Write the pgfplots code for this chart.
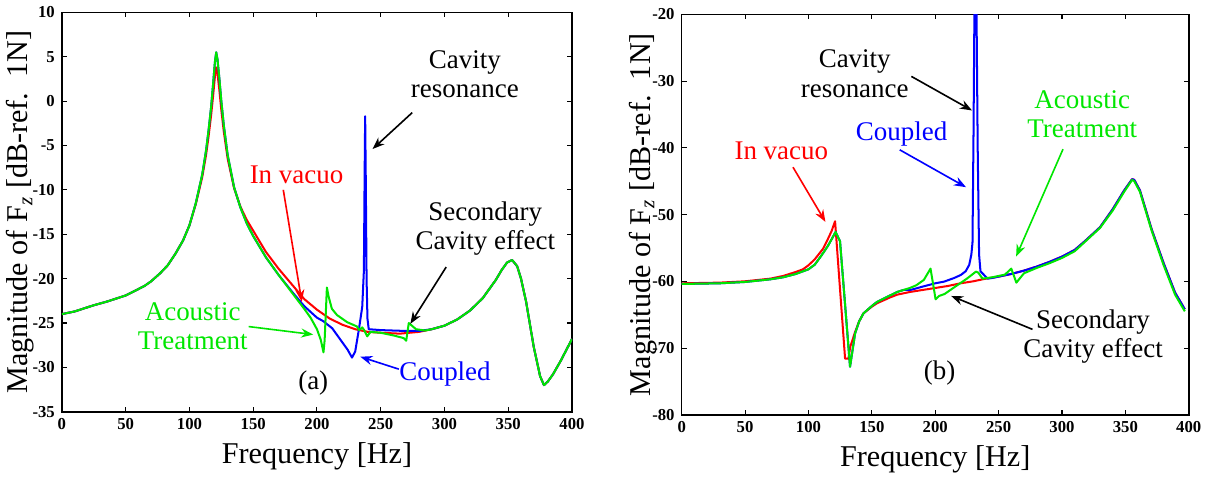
\documentclass[border=0pt]{standalone}
\usepackage{fontspec}
\setmainfont{Liberation Serif}
\usepackage{pgfplots}
\pgfplotsset{compat=1.18}
\usetikzlibrary{arrows.meta}

\definecolor{cred}{RGB}{255,0,0}
\definecolor{cblue}{RGB}{0,0,255}
\definecolor{cgreen}{RGB}{0,230,0}

\newcommand{\ann}{\fontsize{13.4}{14.5}\selectfont}
\newcommand{\lab}{\fontsize{15}{17}\selectfont}

\tikzset{arr/.style={line width=0.8pt, -{Stealth[length=6pt,width=4.5pt]}}}

\pgfplotsset{
  fr/.style={
    scale only axis,
    xmin=0, xmax=400,
    xtick={0,50,...,400},
    tick align=inside,
    major tick length=2.5pt,
    axis line style={line width=0.8pt},
    every tick/.style={black, line width=0.5pt},
    tick label style={font=\fontsize{8.3}{9}\selectfont\bfseries},
    /pgf/number format/assume math mode=true,
    xlabel={Frequency [Hz]},
    ylabel={Magnitude of F\textsubscript{\itshape z} [dB-ref.\ \ 1N]},
    every axis x label/.style={at={(axis description cs:0.5,-0.111)},anchor=center,font=\lab},
    every axis plot/.append style={line width=1pt, line join=round},
  },
}

\begin{document}
\begin{tikzpicture}
% ---------- (a) ----------
\begin{axis}[fr,
  width=253.5pt, height=198.5pt,
  ymin=-35, ymax=10, ytick={-35,-30,...,10},
  every axis y label/.style={at={(axis description cs:-0.081,0.5)},rotate=90,anchor=center,font=\lab},
]
% In vacuo
\addplot[cred] coordinates {
(0,-24.0) (10,-23.7) (25,-23.0) (35,-22.6) (50,-21.9) (57,-21.4) (65,-20.8)
(70,-20.3) (77,-19.4) (83,-18.5) (89,-17.2) (95,-15.7) (100,-14.0)
(105,-11.6) (110,-8.6) (113,-6.1) (115,-4.0) (117,-1.6) (118.5,0.5) (120,2.8)
(121,3.8) (122,3.1) (123.5,1.2) (125,-1.0) (127,-3.5) (130,-6.5) (135,-9.8)
(140,-11.9) (145,-13.4) (150,-14.6) (160,-17.0) (170,-18.9) (180,-20.6)
(190,-22.3) (200,-23.5) (210,-24.5) (220,-25.2) (230,-25.7) (240,-26.0)
(250,-26.1) (265,-26.2) (280,-26.0) (290,-25.7) (300,-25.3) (310,-24.6)
(320,-23.6) (330,-22.2) (340,-20.2) (345,-19.0) (349,-18.2) (353,-17.9)
(357,-18.6) (360,-20.0) (364,-22.6) (370,-27.7) (375,-31.0) (378,-32.0)
(381,-31.6) (385,-30.8) (391,-29.3) (400,-26.8)
};
% Coupled
\addplot[cblue] coordinates {
(0,-24.0) (10,-23.7) (25,-23.0) (35,-22.6) (50,-21.9) (57,-21.4) (65,-20.8)
(70,-20.3) (77,-19.4) (83,-18.5) (89,-17.2) (95,-15.7) (100,-14.0)
(105,-11.5) (110,-8.3) (113,-5.6) (115,-3.3) (117,-0.7) (118.5,1.8) (120,4.4)
(121,5.5) (122,4.7) (123.5,2.5) (125,0.0) (127,-2.8) (130,-6.1) (135,-9.7)
(140,-12.0) (145,-13.8) (150,-15.2) (160,-17.6) (170,-19.6) (180,-21.4)
(190,-23.1) (200,-24.4) (205,-24.8) (212,-25.6) (218,-26.8) (224,-28.0)
(227.5,-28.9) (230,-28.2) (232.8,-25.8) (235.5,-23.2) (236.8,-19.1)
(237.4,-8.0) (237.8,-1.7) (238.3,-9.0) (238.9,-20.0) (239.6,-24.5)
(240.6,-25.7) (250,-25.8) (260,-25.85) (270,-25.9) (280,-25.9) (290,-25.7)
(300,-25.3) (310,-24.6) (320,-23.6) (330,-22.2) (340,-20.2) (345,-19.0)
(349,-18.2) (353,-17.9) (357,-18.6) (360,-20.0) (364,-22.6) (370,-27.7)
(375,-31.0) (378,-32.0) (381,-31.6) (385,-30.8) (391,-29.3) (400,-26.8)
};
% Acoustic treatment
\addplot[cgreen] coordinates {
(0,-24.0) (10,-23.7) (25,-23.0) (35,-22.6) (50,-21.9) (57,-21.4) (65,-20.8)
(70,-20.3) (77,-19.4) (83,-18.5) (89,-17.2) (95,-15.7) (100,-14.0)
(105,-11.5) (110,-8.3) (113,-5.6) (115,-3.3) (117,-0.7) (118.5,1.8) (120,4.4)
(121,5.5) (122,4.7) (123.5,2.5) (125,0.0) (127,-2.8) (130,-6.1) (135,-9.7)
(140,-12.0) (145,-13.8) (150,-15.2) (160,-17.6) (170,-19.6) (180,-21.5)
(190,-23.4) (195,-24.4) (200,-25.7) (203,-26.9) (205.1,-28.3) (206,-27.0)
(207.8,-21.0) (209.1,-22.0) (211.7,-23.4) (215.7,-24.1) (223.6,-24.9)
(231.5,-25.4) (233,-25.8) (235.5,-25.5) (237,-25.8) (239.4,-26.5) (242,-26.0)
(250,-26.1) (260,-26.4) (268,-26.7) (270,-27.0) (272,-25.0) (277.7,-25.7)
(285,-25.85) (290,-25.7) (300,-25.3) (310,-24.6) (320,-23.6) (330,-22.2)
(340,-20.2) (345,-19.0) (349,-18.2) (353,-17.9) (357,-18.6) (360,-20.0)
(364,-22.6) (370,-27.7) (375,-31.0) (378,-32.0) (381,-31.6) (385,-30.8)
(391,-29.3) (400,-26.8)
};
\node[align=center, font=\ann] at (axis cs:316,3.0) {Cavity\\resonance};
\draw[arr, black] (axis cs:274.7,-1.3) -- (axis cs:243.6,-5.4);
\node[font=\ann, text=cred] at (axis cs:184,-8.3) {In vacuo};
\draw[arr, cred] (axis cs:173.6,-10.0) -- (axis cs:188.1,-22.6);
\node[align=center, font=\ann] at (axis cs:332,-14.35) {Secondary\\Cavity effect};
\draw[arr, black] (axis cs:301.3,-18.7) -- (axis cs:273.2,-25.1);
\node[align=center, font=\ann, text=cgreen] at (axis cs:102.6,-25.4) {Acoustic\\Treatment};
\draw[arr, cgreen] (axis cs:146.4,-25.4) -- (axis cs:197.1,-26.3);
\node[font=\ann, text=cblue] at (axis cs:300.4,-30.8) {Coupled};
\draw[arr, cblue] (axis cs:264.2,-30.2) -- (axis cs:234,-28.8);
\node[font=\ann] at (axis cs:197.1,-31.8) {(a)};
\end{axis}

% ---------- (b) ----------
\begin{axis}[fr,
  at={(308pt,-1.5pt)},
  width=252pt, height=199pt,
  ymin=-80, ymax=-20, ytick={-80,-70,...,-20},
  every axis y label/.style={at={(axis description cs:-0.077,0.5)},rotate=90,anchor=center,font=\lab},
]
% In vacuo
\addplot[cred] coordinates {
(0,-60.3) (30,-60.2) (50,-60.0) (70,-59.6) (80,-59.2) (90,-58.6) (95.7,-58.2)
(100,-57.6) (105,-56.7) (111.6,-55.1) (115,-53.8) (118.2,-52.5) (121,-51.0)
(128.9,-71.6) (131.5,-71.6) (133,-69.8) (136.8,-67.6) (140,-66.0) (143.4,-64.8)
(150,-63.8) (154,-63.3) (164.6,-62.4) (170,-62.0) (180,-61.6) (190,-61.3)
(200,-61.0) (210,-60.7) (220,-60.3) (230,-60.0) (240,-59.6) (250,-59.3)
(260,-58.9) (270,-58.4) (280,-57.8) (290,-57.1) (300,-56.3) (310,-55.3)
(318,-54.0) (330,-51.9) (340,-49.2) (349,-46.4) (355.3,-44.7) (357,-44.8)
(361.5,-46.4) (370.7,-52.2) (380,-57.2) (389.2,-61.7) (396.9,-64.2)
};
% Coupled
\addplot[cblue] coordinates {
(0,-60.4) (30,-60.3) (50,-60.1) (70,-59.7) (80,-59.4) (90,-58.9) (100,-58.2)
(105,-57.5) (110,-56.2) (115,-54.8) (118,-53.8) (121.4,-52.6) (124.9,-54.0)
(132.8,-72.8) (136.8,-67.8) (140,-66.0) (143.4,-64.8) (150,-63.7) (154,-63.1)
(164.6,-62.1) (170,-61.6) (175,-61.3) (180.5,-61.3) (190,-60.8) (200,-60.3)
(207,-60.05) (215,-59.5) (220.2,-59.05) (224,-58.5) (226.8,-57.55) (228.5,-56.0)
(229.4,-54.2) (230.2,-38.0) (230.9,-20.0) (231.5,-10.0) (232.6,-20.0)
(233.5,-40.0) (234.6,-56.0) (235.7,-58.5) (241.3,-59.6) (245,-59.5)
(255,-59.1) (260,-58.9) (270,-58.4) (280,-57.8) (290,-57.1) (300,-56.3)
(310,-55.3) (318,-54.0) (330,-51.9) (340,-49.2) (349,-46.4) (355.3,-44.7)
(357,-44.8) (361.5,-46.4) (370.7,-52.2) (380,-57.2) (389.2,-61.7) (396.9,-64.2)
};
% Acoustic treatment
\addplot[cgreen] coordinates {
(0,-60.4) (30,-60.3) (50,-60.1) (70,-59.7) (80,-59.4) (90,-58.9) (100,-58.2)
(105,-57.5) (110,-56.2) (115,-54.8) (118,-53.8) (121.4,-52.6) (124.9,-54.0)
(132.8,-72.8) (136.8,-67.8) (140,-66.0) (143.4,-64.8) (150,-63.7) (154,-63.1)
(164.6,-62.1) (170,-61.6) (175,-61.3) (180,-61.0) (185,-60.6) (191,-59.8)
(196.3,-58.1) (200.3,-62.7) (203,-62.2) (207.4,-61.9) (215,-60.9) (225,-59.6)
(232.1,-58.55) (234,-58.7) (237.3,-59.6) (245,-59.4) (255,-59.0) (260,-58.1)
(264,-60.2) (270,-58.8) (280,-58.0) (290,-57.3) (300,-56.5) (310,-55.5)
(318,-54.1) (330,-52.0) (340,-49.4) (349,-46.6) (355.3,-44.8) (357,-45.0)
(361.5,-46.6) (370.7,-52.4) (380,-57.5) (389.2,-62.0) (396.9,-64.5)
};
\node[align=center, font=\ann] at (axis cs:136.5,-28.9) {Cavity\\resonance};
\draw[arr, black] (axis cs:181.2,-29.3) -- (axis cs:229,-34.4);
\node[font=\ann, text=cblue] at (axis cs:173.5,-37.9) {Coupled};
\draw[arr, cblue] (axis cs:172,-40.3) -- (axis cs:224.3,-45.9);
\node[font=\ann, text=cred] at (axis cs:78.6,-40.4) {In vacuo};
\draw[arr, cred] (axis cs:87.8,-42.9) -- (axis cs:113.4,-51.1);
\node[align=center, font=\ann, text=cgreen] at (axis cs:316,-35) {Acoustic\\Treatment};
\draw[arr, cgreen] (axis cs:300.8,-40.2) -- (axis cs:263.8,-56.3);
\node[align=center, font=\ann] at (axis cs:324.5,-68.3) {Secondary\\Cavity effect};
\draw[arr, black] (axis cs:276.7,-67.2) -- (axis cs:212.6,-62.2);
\node[font=\ann] at (axis cs:203.4,-73.7) {(b)};
\end{axis}
\end{tikzpicture}
\end{document}
